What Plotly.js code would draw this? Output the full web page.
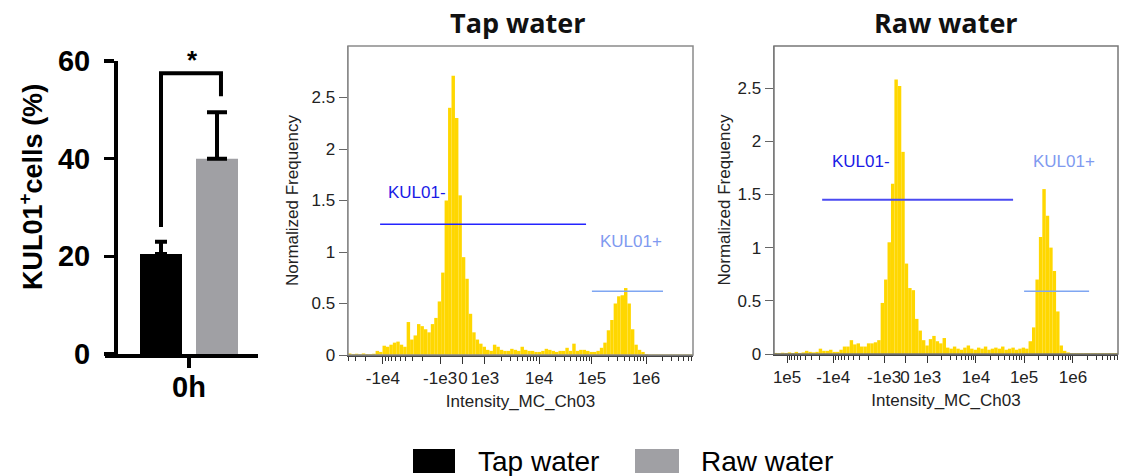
<!DOCTYPE html>
<html><head><meta charset="utf-8">
<script src="https://cdn.plot.ly/plotly-3.0.1.min.js"></script>
<style>html,body{margin:0;padding:0;background:#fff}#chart{width:1123px;height:476px}</style>
</head><body><div id="chart"></div>
<script>
// ---------- data ----------
const timepoints = ['0h'];
const tapMean = [20.5];
const tapErr = [2.5];
const rawMean = [40];
const rawErr = [9.5];

// normalized frequency per display bin (100 bins across the transformed intensity axis)
const tapHist = [
  0.015,0.008,0.012,0.008,0.015,0.01,0.008,0.012,
  0.04,0.03,0.09,0.08,0.1,0.12,0.13,0.1,0.08,0.32,0.15,0.19,
  0.3,0.28,0.25,0.22,0.3,0.36,0.52,0.8,1.5,2.4,
  2.71,2.3,1.55,0.95,0.74,0.4,0.22,0.15,0.11,0.08,
  0.05,0.04,0.1,0.08,0.05,0.04,0.04,0.06,0.05,0.04,
  0.08,0.05,0.04,0.04,0.03,0.03,0.04,0.06,0.05,0.04,
  0.03,0.04,0.04,0.07,0.04,0.11,0.04,0.05,0.05,0.04,
  0.03,0.03,0.04,0.07,0.12,0.24,0.34,0.5,0.57,0.58,
  0.65,0.5,0.25,0.1,0.05,0.03,0.01,
  0.005,0.005,0.005,0.005,0.005,0.005,0.005,0.005,0.005,0.005,0.005,0.005,0.005
];
const rawHist = [
  0.01,0.008,0.012,0.01,0.015,0.01,0.02,0.01,0.015,
  0.03,0.02,0.015,0.02,0.05,0.03,0.03,0.04,0.02,0.02,0.04,
  0.07,0.07,0.13,0.09,0.1,0.07,0.07,0.1,0.1,0.11,
  0.13,0.48,0.7,1.05,1.6,2.58,2.52,1.9,0.85,0.62,
  0.6,0.33,0.22,0.13,0.08,0.14,0.17,0.12,0.1,0.15,
  0.06,0.05,0.07,0.05,0.04,0.06,0.08,0.05,0.04,0.06,
  0.05,0.07,0.04,0.05,0.06,0.05,0.07,0.04,0.05,0.06,
  0.04,0.05,0.06,0.05,0.12,0.25,0.7,1.1,1.55,1.3,
  1.0,0.78,0.4,0.08,0.03,0.015,
  0.008,0.008,0.008,0.008,0.008,0.008,0.008,0.008,0.008,0.008,0.008,0.008,0.008,0.008
];

// axis tick labels (biexponential display) and their display positions
const tapTickText = ['-1e4','-1e3','0','1e3','1e4','1e5','1e6'];
const tapTickPos  = [10.1, 26.7, 33.3, 39.7, 55.4, 70.7, 86.4];
const rawTickText = ['1e5','-1e4','-1e3','0','1e3','1e4','1e5','1e6'];
const rawTickPos  = [3.8, 17.2, 32.0, 38.1, 44.5, 58.7, 72.7, 86.9];
// decade boundaries for minor ticks
const tapNegDecades = [26.7, 10.1, -6.5];
const tapPosDecades = [39.7, 55.4, 70.7, 86.4, 102.1];
const rawNegDecades = [32.0, 17.2, 3.8, -9.6];
const rawPosDecades = [44.5, 58.7, 72.7, 86.9, 101.1];

const freqTicks = [0, 0.5, 1, 1.5, 2, 2.5];
const freqTickText = ['0','0.5','1','1.5','2','2.5'];

// ---------- helpers ----------
const W = 1123, H = 476;
const px = x => x / W;
const py = y => 1 - y / H;
function minors(neg, pos) {
  const out = [];
  for (let i = 0; i < neg.length - 1; i++)
    for (let k = 2; k <= 9; k++) out.push(neg[i] - (neg[i] - neg[i + 1]) * Math.log10(k));
  for (let i = 0; i < pos.length - 1; i++)
    for (let k = 2; k <= 9; k++) out.push(pos[i] + (pos[i + 1] - pos[i]) * Math.log10(k));
  return out.filter(v => v >= 0 && v <= 100);
}
const binCenters = arr => arr.map((_, i) => i + 0.5);

const F = 'Liberation Sans, Arial, sans-serif';
const gold = '#ffd700';

const traces = [
  {type:'bar', name:'Tap water', x:timepoints, y:tapMean, xaxis:'x', yaxis:'y',
   marker:{color:'#000000', line:{width:0}},
   error_y:{type:'data', array:tapErr, arrayminus:[0], symmetric:false, color:'#000', thickness:4, width:6},
   showlegend:false, hoverinfo:'y'},
  {type:'bar', name:'Raw water', x:timepoints, y:rawMean, xaxis:'x', yaxis:'y',
   marker:{color:'#a0a0a4', line:{width:0}},
   error_y:{type:'data', array:rawErr, arrayminus:[0], symmetric:false, color:'#000', thickness:4, width:10},
   showlegend:false, hoverinfo:'y'},
  {type:'bar', name:'Tap water histogram', x:binCenters(tapHist), y:tapHist, width:1,
   xaxis:'x2', yaxis:'y2', marker:{color:gold, line:{width:0}}, showlegend:false},
  {type:'bar', name:'Raw water histogram', x:binCenters(rawHist), y:rawHist, width:1,
   xaxis:'x3', yaxis:'y3', marker:{color:gold, line:{width:0}}, showlegend:false}
];

const histX = (dom, anchor, tv, tt, mv) => ({
  domain: dom, anchor: anchor, range:[0,100], showgrid:false, zeroline:false,
  tickmode:'array', tickvals: tv, ticktext: tt, tickangle:0,
  ticks:'outside', ticklen:7, tickwidth:1, tickcolor:'#333',
  tickfont:{family:F, size:17, color:'#222'},
  minor:{tickmode:'array', tickvals: mv, ticks:'outside', ticklen:4, tickwidth:1, tickcolor:'#333', showgrid:false},
  showline:true, linecolor:'#444', linewidth:1.5,
  title:{text:'Intensity_MC_Ch03', font:{family:F, size:17, color:'#222'}, standoff:8},
  fixedrange:true
});
const histY = (dom, anchor, top, standoff) => ({
  domain: dom, anchor: anchor, range:[0, top], showgrid:false, zeroline:false,
  tickmode:'array', tickvals: freqTicks, ticktext: freqTickText,
  ticks:'outside', ticklen:8, tickwidth:1, tickcolor:'#666',
  tickfont:{family:F, size:17, color:'#222'},
  showline:true, linecolor:'#8a8a8a', linewidth:1.5,
  title:{text:'Normalized Frequency', font:{family:F, size:17, color:'#222'}, standoff: standoff},
  fixedrange:true
});

const ann = (text, x, y, font, extra) => Object.assign({text, xref:'paper', yref:'paper', x:px(x), y:py(y),
  xanchor:'center', yanchor:'middle', showarrow:false, font}, extra || {});

const layout = {
  width: W, height: H, margin:{l:0, r:0, t:0, b:0},
  paper_bgcolor:'#fff', plot_bgcolor:'#fff',
  barmode:'group', bargap:0.268, bargroupgap:0.25,
  showlegend:false,
  xaxis:{domain:[px(105), px(258)], anchor:'y', type:'category', range:[-0.549, 0.451],
    showline:true, linecolor:'#000', linewidth:3.5, ticks:'outside', ticklen:10, tickwidth:3.5, tickcolor:'#000',
    ticklabelstandoff:-5,
    tickfont:{family:F, size:29, color:'#000', weight:700}, showgrid:false, zeroline:false, fixedrange:true},
  yaxis:{domain:[py(354), py(61)], anchor:'free', position:px(115), range:[0,60], tickvals:[0,20,40,60],
    showline:true, linecolor:'#000', linewidth:3.5, ticks:'outside', ticklen:10, tickwidth:3.5, tickcolor:'#000',
    ticklabelstandoff:8,
    tickfont:{family:F, size:29, color:'#000', weight:700}, showgrid:false, zeroline:false, fixedrange:true},
  xaxis2: histX([px(348), px(693)], 'y2', tapTickPos, tapTickText, minors(tapNegDecades, tapPosDecades)),
  yaxis2: histY([py(355), py(46)], 'x2', 3.0, 8),
  xaxis3: histX([px(774), px(1118)], 'y3', rawTickPos, rawTickText, minors(rawNegDecades, rawPosDecades)),
  yaxis3: histY([py(354), py(46)], 'x3', 2.895, 2),
  shapes: [
    // significance bracket
    {type:'path', xref:'x', yref:'y', path:'M -0.183,26 L -0.183,57.5 L 0.209,57.5 L 0.209,52.8',
     line:{color:'#000', width:4}},
    // plot frames
    {type:'rect', xref:'x2 domain', yref:'y2 domain', x0:0, x1:1, y0:0, y1:1, line:{color:'#8a8a8a', width:1.5}},
    {type:'rect', xref:'x3 domain', yref:'y3 domain', x0:0, x1:1, y0:0, y1:1, line:{color:'#777', width:1.5}},
    // gates
    {type:'line', xref:'x2', yref:'y2', x0:9.3, x1:69.0, y0:1.27, y1:1.27, line:{color:'#2424ff', width:1.5}},
    {type:'line', xref:'x2', yref:'y2', x0:70.7, x1:91.3, y0:0.62, y1:0.62, line:{color:'#7fa6f2', width:1.5}},
    {type:'line', xref:'x3', yref:'y3', x0:14.0, x1:69.5, y0:1.45, y1:1.45, line:{color:'#4a4af2', width:1.8}},
    {type:'line', xref:'x3', yref:'y3', x0:72.7, x1:91.6, y0:0.59, y1:0.59, line:{color:'#7fa6f2', width:1.5}},
    // legend swatches
    {type:'rect', xref:'paper', yref:'paper', x0:px(413), x1:px(455), y0:py(473), y1:py(449), fillcolor:'#000', line:{width:0}},
    {type:'rect', xref:'paper', yref:'paper', x0:px(635), x1:px(679), y0:py(473), y1:py(449), fillcolor:'#a0a0a4', line:{width:0}}
  ],
  annotations: [
    ann('KUL01<sup>+</sup>cells (%)', 31, 187, {family:F, size:27, color:'#000', weight:700}, {textangle:-90}),
    ann('*', 192, 60, {family:F, size:26, color:'#000', weight:700}),
    ann('Tap water', 517, 22, {family:'Open Sans, sans-serif', size:27, color:'#111', weight:700}),
    ann('Raw water', 946, 22, {family:'Open Sans, sans-serif', size:27, color:'#111', weight:700}),
    {text:'KUL01-', xref:'x2', yref:'y2', x:19.9, y:1.58, xanchor:'center', yanchor:'middle', showarrow:false, font:{family:F, size:17, color:'#1a1ae6'}},
    {text:'KUL01+', xref:'x2', yref:'y2', x:82, y:1.10, xanchor:'center', yanchor:'middle', showarrow:false, font:{family:F, size:17, color:'#7f9af0'}},
    {text:'KUL01-', xref:'x3', yref:'y3', x:25.3, y:1.81, xanchor:'center', yanchor:'middle', showarrow:false, font:{family:F, size:17, color:'#1a1ae6'}},
    {text:'KUL01+', xref:'x3', yref:'y3', x:84.4, y:1.81, xanchor:'center', yanchor:'middle', showarrow:false, font:{family:F, size:17, color:'#7f9af0'}},
    ann('Tap water', 476, 461, {family:F, size:28, color:'#000'}, {xanchor:'left'}),
    ann('Raw water', 699, 461, {family:F, size:28, color:'#000'}, {xanchor:'left'})
  ]
};

Plotly.newPlot('chart', traces, layout, {displayModeBar:false, staticPlot:true});
</script>
</body></html>
